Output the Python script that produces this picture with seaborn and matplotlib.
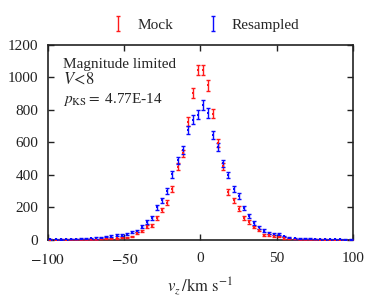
import numpy as np
import pandas as pd
import matplotlib
matplotlib.use("Agg")
import matplotlib.pyplot as plt
import seaborn as sns

# bin edges of the histogram (60 bins from -100 to 100 km/s)
bin_edges = np.linspace(-100, 100, 61)
bin_centres = 0.5 * (bin_edges[:-1] + bin_edges[1:])

mock_counts = [2, 1, 3, 2, 3, 4, 4, 5, 4, 5, 6, 8, 7, 10, 15, 14, 20, 45, 55, 82,
               88, 137, 185, 228, 313, 451, 533, 728, 904, 1045,
               1045, 950, 777, 594, 452, 295, 244, 193, 133, 110, 80, 62, 33, 30, 25,
               20, 12, 8, 6, 5, 4, 3, 3, 2, 2, 1, 1, 1, 1, 0]
resampled_counts = [3, 4, 3, 5, 6, 6, 8, 9, 10, 12, 14, 20, 24, 30, 32, 36, 47, 56, 82, 111,
                    137, 201, 245, 303, 404, 490, 553, 676, 740, 769,
                    830, 781, 646, 572, 473, 401, 314, 271, 197, 145, 105, 78, 58, 45, 37,
                    34, 22, 15, 11, 9, 8, 7, 6, 5, 5, 4, 3, 3, 2, 2]

series_names = ["Mock", "Resampled"]
series_colors = ["#ff1a1a", "#0a0aff"]
x_ticks = [-100, -50, 0, 50, 100]
y_ticks = [0, 200, 400, 600, 800, 1000, 1200]

sns.set_style("ticks")
plt.rcParams["font.family"] = ["Liberation Serif", "DejaVu Serif"]
plt.rcParams["mathtext.fontset"] = "stix"

df = pd.DataFrame({
    "v": np.concatenate([bin_centres, bin_centres]),
    "N": np.concatenate([mock_counts, resampled_counts]).astype(float),
    "series": [series_names[0]] * 60 + [series_names[1]] * 60,
})
df["err"] = np.sqrt(df["N"])

fig = plt.figure(figsize=(3.74, 3.03), dpi=100)
ax = fig.add_axes([0.128, 0.208, 0.816, 0.644])

handles = []
for name, col in zip(series_names, series_colors):
    sub = df[df["series"] == name]
    h = ax.errorbar(sub["v"], sub["N"], yerr=sub["err"], fmt="none", ecolor=col,
                    elinewidth=1.0, capsize=1.4, capthick=1.0, label=name, zorder=3)
    handles.append(h)
    sns.scatterplot(data=sub, x="v", y="N", ax=ax, color=col, marker="s", s=4,
                    linewidth=0, legend=False, zorder=4)

ax.set_xlim(-100, 100)
ax.set_ylim(0, 1200)
ax.set_xticks(x_ticks)
ax.set_yticks(y_ticks)
ax.set_xticklabels(["$-100$", "$-50$", "0", "50", "100"])
ax.tick_params(direction="in", length=4, width=1.0, top=True, right=True,
               labelsize=11, colors="#222222")
ax.tick_params(axis="x", pad=9)
ax.tick_params(axis="y", pad=7)
for sp in ax.spines.values():
    sp.set_linewidth(1.2)
    sp.set_color("#222222")

ax.set_xlabel(r"$v_z\,/\mathrm{km\ s^{-1}}$", fontsize=12, labelpad=6)
ax.set_ylabel("")

ax.text(0.049, 0.935, "Magnitude limited", transform=ax.transAxes, fontsize=11,
        va="top", ha="left")
ax.text(0.049, 0.862, r"$V\!<\!8$", transform=ax.transAxes, fontsize=12,
        va="top", ha="left")
ax.text(0.049, 0.765, r"$p_{\mathrm{KS}} = $" + " 4.77E-14", transform=ax.transAxes,
        fontsize=11, va="top", ha="left")

leg = fig.legend(handles=handles, labels=series_names, loc="center",
                 bbox_to_anchor=(0.548, 0.918), ncol=2, frameon=False, fontsize=11,
                 handlelength=1.0, columnspacing=2.1, handletextpad=0.75)

fig.savefig("out.png", dpi=100)
